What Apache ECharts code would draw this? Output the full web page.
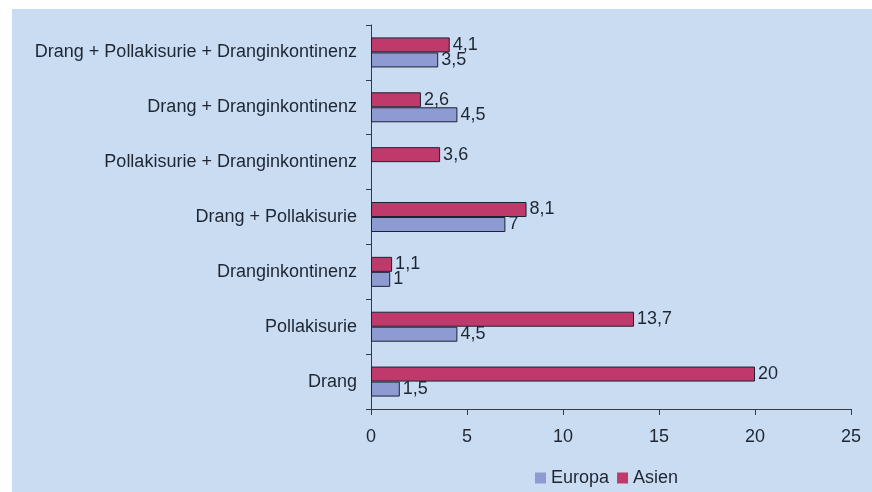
<!DOCTYPE html>
<html>
<head>
<meta charset="utf-8">
<script src="https://cdn.jsdelivr.net/npm/echarts@6/dist/echarts.min.js"></script>
<style>
  html, body { margin: 0; padding: 0; background: #ffffff; }
  #wrap { position: relative; width: 872px; height: 492px; overflow: hidden; }
  #chart { position: absolute; left: 12px; top: 9px; width: 860px; height: 483px; }
</style>
</head>
<body>
<div id="wrap"><div id="chart"></div></div>
<script>
// Symptom combinations, listed bottom to top
const categories = [
  'Drang',
  'Pollakisurie',
  'Dranginkontinenz',
  'Drang + Pollakisurie',
  'Pollakisurie + Dranginkontinenz',
  'Drang + Dranginkontinenz',
  'Drang + Pollakisurie + Dranginkontinenz'
];
const europa = [1.5, 4.5, 1, 7, null, 4.5, 3.5];
const asien = [20, 13.7, 1.1, 8.1, 3.6, 2.6, 4.1];
const seriesNames = ['Europa', 'Asien'];
const xTicks = [0, 5, 10, 15, 20, 25];

const FONT = '"Liberation Sans", Arial, sans-serif';
const TEXT = '#1e2633';
const SIZE = 18;

// German decimal comma
const fmt = v => String(v).replace('.', ',');

const labelStyle = {
  show: true,
  position: 'right',
  distance: 3,
  color: TEXT,
  fontFamily: FONT,
  fontSize: SIZE,
  formatter: p => fmt(p.value)
};

const chart = echarts.init(document.getElementById('chart'));
chart.setOption({
  backgroundColor: '#cadcf2',
  animation: false,
  grid: { left: 359, right: 21, top: 16, bottom: 83, containLabel: false },
  legend: {
    data: seriesNames,
    top: 455,
    left: 518,
    itemWidth: 11,
    itemHeight: 11,
    itemGap: 8,
    icon: 'rect',
    itemStyle: { borderWidth: 0 },
    textStyle: { color: TEXT, fontFamily: FONT, fontSize: SIZE }
  },
  xAxis: {
    type: 'value',
    min: xTicks[0],
    max: xTicks[xTicks.length - 1],
    interval: 5,
    splitLine: { show: false },
    axisLine: { show: true, lineStyle: { color: '#333a44', width: 1 } },
    axisTick: { show: true, length: 6, lineStyle: { color: '#333a44' } },
    axisLabel: { color: TEXT, fontFamily: FONT, fontSize: SIZE, margin: 19 }
  },
  yAxis: {
    type: 'category',
    data: categories,
    axisLine: { show: true, lineStyle: { color: '#333a44', width: 1 } },
    axisTick: { show: true, length: 5, lineStyle: { color: '#333a44' } },
    axisLabel: { color: TEXT, fontFamily: FONT, fontSize: SIZE, margin: 14 }
  },
  // Asien is listed first so it sits above Europa within each category
  series: [
    {
      name: seriesNames[1],
      type: 'bar',
      data: asien,
      barWidth: 15,
      barGap: '0%',
      itemStyle: { color: '#bf3a6b', borderColor: '#1c2233', borderWidth: 1 },
      label: labelStyle
    },
    {
      name: seriesNames[0],
      type: 'bar',
      data: europa,
      barWidth: 15,
      barGap: '0%',
      itemStyle: { color: '#8e9bd3', borderColor: '#1c2233', borderWidth: 1 },
      label: labelStyle
    }
  ]
});
</script>
</body>
</html>
